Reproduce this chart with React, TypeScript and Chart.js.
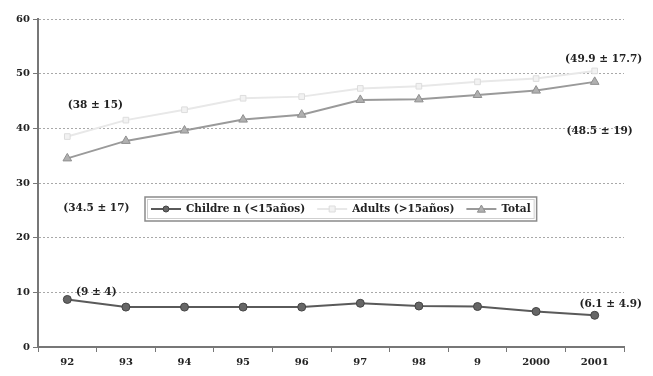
import React, { useEffect, useRef } from "react";
import { Chart, registerables } from "chart.js";

Chart.register(...registerables);

const categories = ["92", "93", "94", "95", "96", "97", "98", "9", "2000", "2001"];
const children = [8.7, 7.3, 7.3, 7.3, 7.3, 8.0, 7.5, 7.4, 6.5, 5.8];
const adults = [38.5, 41.5, 43.4, 45.5, 45.8, 47.3, 47.7, 48.5, 49.1, 50.5];
const total = [34.5, 37.7, 39.6, 41.6, 42.5, 45.2, 45.3, 46.1, 46.9, 48.5];
const yTicks = [0, 10, 20, 30, 40, 50, 60];
const seriesNames = ["Childre n (<15años)", "Adults (>15años)", "Total"];
const noteTexts = ["(38 ± 15)", "(34.5 ± 17)", "(9 ± 4)", "(6.1 ± 4.9)", "(49.9 ± 17.7)", "(48.5 ± 19)"];

const FONT = "'DejaVu Serif', serif";

const styles = [
  { line: "#5a5a5a", fill: "#666666", stroke: "#444444", shape: "circle" },
  { line: "#e8e8e8", fill: "#f2f2f2", stroke: "#dddddd", shape: "rect" },
  { line: "#9a9a9a", fill: "#b0b0b0", stroke: "#8f8f8f", shape: "triangle" },
];

function drawMarker(ctx: CanvasRenderingContext2D, shape: string, x: number, y: number, r: number, fill: string, stroke: string) {
  ctx.save();
  ctx.fillStyle = fill;
  ctx.strokeStyle = stroke;
  ctx.lineWidth = 1;
  ctx.beginPath();
  if (shape === "circle") {
    ctx.arc(x, y, r, 0, Math.PI * 2);
  } else if (shape === "rect") {
    ctx.rect(x - r, y - r, r * 2, r * 2);
  } else {
    ctx.moveTo(x, y - r);
    ctx.lineTo(x + r, y + r * 0.8);
    ctx.lineTo(x - r, y + r * 0.8);
    ctx.closePath();
  }
  ctx.fill();
  ctx.stroke();
  ctx.restore();
}

const overlayPlugin = {
  id: "overlay",
  afterDraw(chart: any) {
    const ctx: CanvasRenderingContext2D = chart.ctx;
    const xs = chart.scales.x;
    const ys = chart.scales.y;
    const area = chart.chartArea;

    // annotations: [textIndex, categoryIndex, value, dx, dy]
    const last = categories.length - 1;
    const notes: [number, number, number, number, number][] = [
      [0, 0, adults[0], 28, -31],
      [1, 0, total[0], 29, 50],
      [2, 0, children[0], 29, -7],
      [3, last, children[last], 16, -11],
      [4, last, adults[last], 9, -12],
      [5, last, total[last], 5, 49],
    ];
    ctx.save();
    ctx.font = `bold 10.5px ${FONT}`;
    ctx.fillStyle = "#222";
    ctx.textAlign = "center";
    ctx.textBaseline = "middle";
    for (const [ti, ci, v, dx, dy] of notes) {
      const px = xs.getPixelForValue(ci) + dx;
      const py = ys.getPixelForValue(v) + dy;
      ctx.fillText(noteTexts[ti], px, py);
    }
    ctx.restore();

    // legend box
    const boxLeft = area.left + 107;
    const boxTop = area.top + 178;
    const boxH = 24;
    ctx.save();
    ctx.font = `bold 10.5px ${FONT}`;
    const symW = 30;
    const gapSym = 5;
    const gapItem = 12;
    let w = 6;
    const widths = seriesNames.map((n) => ctx.measureText(n).width);
    widths.forEach((tw, i) => {
      w += symW + gapSym + tw + (i < widths.length - 1 ? gapItem : 0);
    });
    w += 6;
    ctx.fillStyle = "#ffffff";
    ctx.fillRect(boxLeft, boxTop, w, boxH);
    ctx.strokeStyle = "#8a8a8a";
    ctx.lineWidth = 1.5;
    ctx.strokeRect(boxLeft, boxTop, w, boxH);
    ctx.strokeStyle = "#cfcfcf";
    ctx.lineWidth = 1;
    ctx.strokeRect(boxLeft + 2.5, boxTop + 2.5, w - 5, boxH - 5);
    let x = boxLeft + 6;
    const cy = boxTop + boxH / 2;
    seriesNames.forEach((name, i) => {
      const st = styles[i];
      ctx.strokeStyle = st.line;
      ctx.lineWidth = 2;
      ctx.beginPath();
      ctx.moveTo(x, cy);
      ctx.lineTo(x + symW, cy);
      ctx.stroke();
      drawMarker(ctx, st.shape, x + symW / 2, cy, st.shape === "triangle" ? 4 : 3, st.fill, st.stroke);
      x += symW + gapSym;
      ctx.fillStyle = "#222";
      ctx.textAlign = "left";
      ctx.textBaseline = "middle";
      ctx.fillText(name, x, cy + 0.5);
      x += widths[i] + gapItem;
    });
    ctx.restore();
  },
};

export default function App() {
  const ref = useRef<HTMLCanvasElement | null>(null);

  useEffect(() => {
    if (!ref.current) return;
    const mk = (data: number[], i: number, name: string) => ({
      label: name,
      data,
      borderColor: styles[i].line,
      backgroundColor: styles[i].fill,
      pointBorderColor: styles[i].stroke,
      pointBackgroundColor: styles[i].fill,
      pointStyle: styles[i].shape,
      pointRadius: styles[i].shape === "triangle" ? 5 : 4,
      pointBorderWidth: 1,
      borderWidth: 2,
      tension: 0,
    });
    const chart = new Chart(ref.current, {
      type: "line",
      data: {
        labels: categories,
        datasets: [
          mk(adults, 1, seriesNames[1]),
          mk(total, 2, seriesNames[2]),
          mk(children, 0, seriesNames[0]),
        ],
      },
      options: {
        animation: false,
        responsive: false,
        maintainAspectRatio: false,
        layout: { padding: { top: 19, right: 29, left: 0, bottom: 0 } },
        plugins: {
          legend: { display: false },
          tooltip: { enabled: false },
        },
        scales: {
          x: {
            offset: true,
            grid: {
              offset: true,
              drawOnChartArea: false,
              drawTicks: true,
              tickLength: 5,
              color: "#777",
              lineWidth: 1,
            },
            border: { display: true, color: "#777", width: 2 },
            ticks: {
              color: "#222",
              padding: 4,
              font: { family: FONT, size: 10, weight: "bold" },
              maxRotation: 0,
              autoSkip: false,
            },
            afterFit: (s: any) => {
              s.height = 29;
            },
          },
          y: {
            min: 0,
            max: 60,
            afterBuildTicks: (s: any) => {
              s.ticks = yTicks.map((v) => ({ value: v }));
            },
            grid: {
              color: "#a8a8a8",
              lineWidth: 1,
              tickLength: 5,
              tickColor: "#777",
              tickBorderDash: [],
            },
            border: { display: true, color: "#777", width: 2, dash: [2, 2] },
            ticks: {
              color: "#222",
              padding: 3,
              font: { family: FONT, size: 10, weight: "bold" },
            },
            afterFit: (s: any) => {
              s.width = 38;
            },
          },
        },
      },
      plugins: [overlayPlugin],
    });
    return () => chart.destroy();
  }, []);

  return (
    <div style={{ position: "absolute", left: 0, top: 0, width: 653, height: 376, background: "#fff" }}>
      <canvas ref={ref} width={653} height={376} style={{ width: 653, height: 376, display: "block" }} />
    </div>
  );
}
